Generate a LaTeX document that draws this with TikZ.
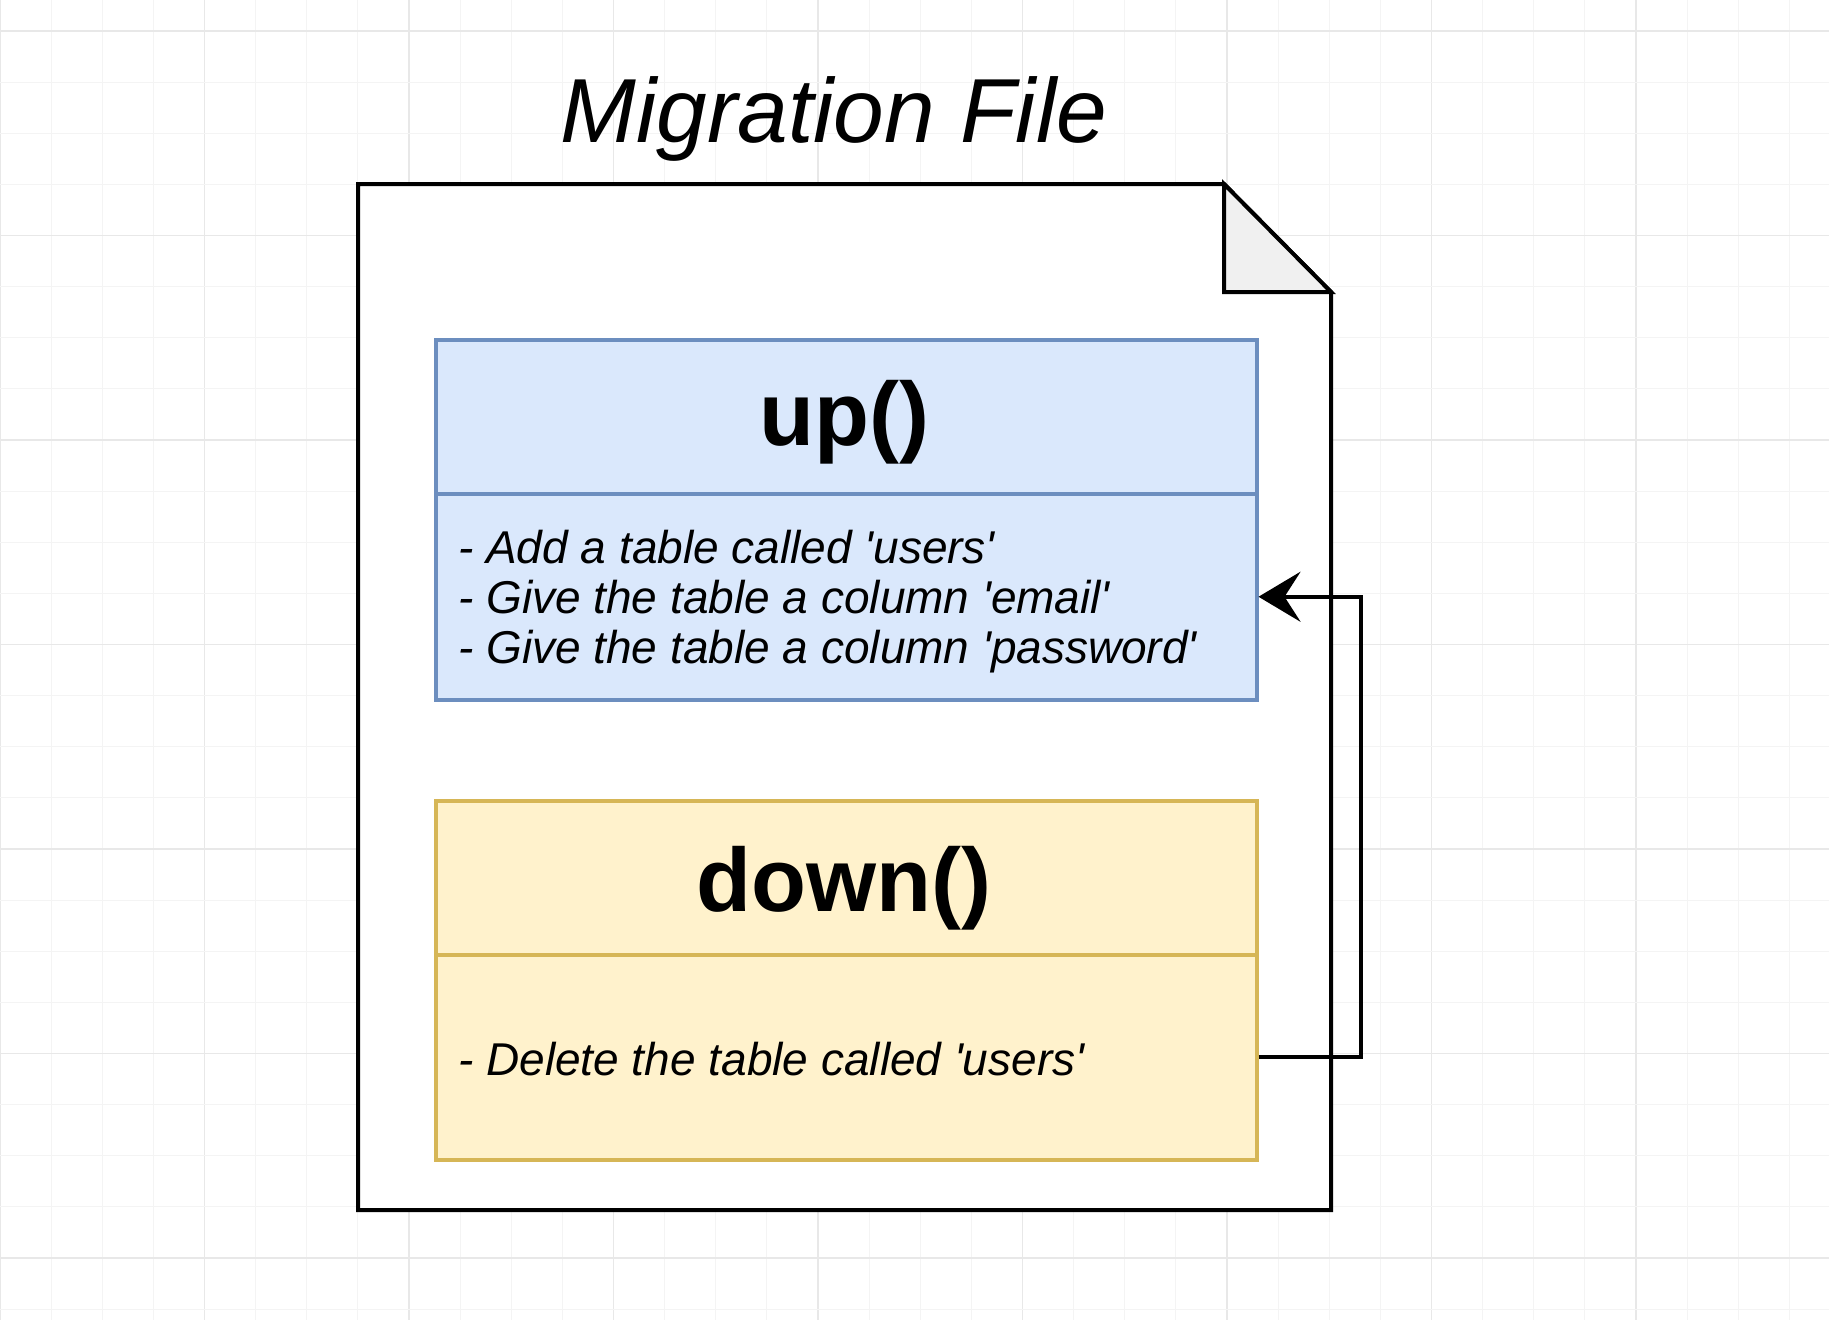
\documentclass[tikz,border=0pt]{standalone}
\usepackage{fontspec}
\setmainfont{Liberation Sans}
\usetikzlibrary{arrows.meta}

\definecolor{gridminor}{HTML}{F4F4F4}
\definecolor{gridmajor}{HTML}{E8E8E8}
\definecolor{upfill}{HTML}{DAE8FC}
\definecolor{upline}{HTML}{6C8EBF}
\definecolor{downfill}{HTML}{FFF2CC}
\definecolor{downline}{HTML}{D6B656}
\definecolor{foldfill}{HTML}{F0F0F0}

\newcommand{\sq}{\textquotesingle}

\tikzset{
  headbox/.style={draw, line width=3.5pt, minimum width=821pt, minimum height=154pt,
    inner sep=0pt, anchor=north west},
  bodybox/.style={draw, line width=3.5pt, minimum width=821pt, inner sep=0pt, anchor=north west},
  bluebox/.style={fill=upfill, draw=upline},
  yellowbox/.style={fill=downfill, draw=downline},
  headtext/.style={anchor=base, inner sep=0pt, font=\fontsize{90}{100}\selectfont\bfseries},
  itemtext/.style={anchor=base west, inner sep=0pt, font=\fontsize{46}{50}\selectfont\itshape},
  docline/.style={line width=4pt, line join=miter},
  connector/.style={line width=4pt, -{Stealth[length=42pt, width=50pt, inset=16pt]}},
}

\begin{document}
\begin{tikzpicture}[x=1pt, y=-1pt]
  \useasboundingbox (0,0) rectangle (1829,1320);
  \fill[white] (0,0) rectangle (1829,1320);

  % background grid
  \foreach \i in {0,...,36} {
    \pgfmathsetmacro{\gx}{\i*51.125}
    \pgfmathtruncatemacro{\ismajor}{mod(\i,4)==0}
    \ifnum\ismajor=1
      \draw[gridmajor, line width=1.6pt] (\gx,0) -- (\gx,1320);
    \else
      \draw[gridminor, line width=1.2pt] (\gx,0) -- (\gx,1320);
    \fi
  }
  \foreach \j in {0,...,25} {
    \pgfmathsetmacro{\gy}{31+\j*51.125}
    \pgfmathtruncatemacro{\ismajor}{mod(\j,4)==0}
    \ifnum\ismajor=1
      \draw[gridmajor, line width=1.6pt] (0,\gy) -- (1829,\gy);
    \else
      \draw[gridminor, line width=1.2pt] (0,\gy) -- (1829,\gy);
    \fi
  }

  % title
  \node[anchor=base, inner sep=0pt, font=\fontsize{91}{100}\selectfont\itshape]
    (title) at (834,142) {Migration File};

  % document sheet with folded corner
  \coordinate (docnw) at (358,184);
  \coordinate (foldtop) at (1224,184);
  \coordinate (foldcorner) at (1224,292);
  \coordinate (foldright) at (1331,292);
  \coordinate (docse) at (1331,1210);
  \filldraw[docline, fill=white]
    (docnw) -- (foldtop) -- (foldright) -- (docse) -- (358,1210) -- cycle;
  \filldraw[docline, fill=foldfill]
    (foldtop) -- (foldcorner) -- (foldright) -- cycle;

  % up() block
  \node[headbox, bluebox] (up) at (434,338) {};
  \node[headtext] (uplabel) at (844,445) {up()};
  \node[bodybox, bluebox, minimum height=206pt] (upbody) at (434,492) {};
  \node[itemtext] (up1) at (458,563) {- Add a table called \sq users\sq};
  \node[itemtext] (up2) at (458,613) {- Give the table a column \sq email\sq};
  \node[itemtext] (up3) at (458,663) {- Give the table a column \sq password\sq};

  % down() block
  \node[headbox, yellowbox] (down) at (434,799) {};
  \node[headtext] (downlabel) at (844,911) {down()};
  \node[bodybox, yellowbox, minimum height=205pt] (downbody) at (434,953) {};
  \node[itemtext] (down1) at (458,1075) {- Delete the table called \sq users\sq};

  % connector from down() back to up()
  \draw[connector] (downbody.east) -- ++(102,0) |- (upbody.east);
\end{tikzpicture}
\end{document}
